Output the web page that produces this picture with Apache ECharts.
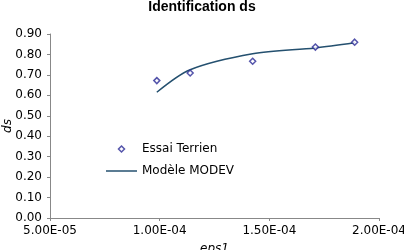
<!DOCTYPE html>
<html>
<head>
<meta charset="utf-8">
<script src="https://cdn.jsdelivr.net/npm/echarts@6/dist/echarts.min.js"></script>
<style>
  html, body { margin: 0; padding: 0; background: #fff; }
  #chart { width: 404px; height: 250px; }
</style>
</head>
<body>
<div id="chart"></div>
<script>
// essais terrain (points)
var essaiEps = [9.87e-5, 1.139e-4, 1.424e-4, 1.71e-4, 1.889e-4];
var essaiDs = [0.672, 0.709, 0.767, 0.836, 0.860];
// modele MODEV (courbe)
var modevEps = [9.87e-5, 1.139e-4, 1.424e-4, 1.71e-4, 1.889e-4];
var modevDs = [0.615, 0.725, 0.803, 0.832, 0.857];

var xTicks = ['5.00E-05', '1.00E-04', '1.50E-04', '2.00E-04'];

function sciLabel(v) {
    var s = v.toExponential(2).toUpperCase();
    // 5.00E-5 -> 5.00E-05
    return s.replace(/E([+-])(\d)$/, 'E$10$2');
}

var font = 'DejaVu Sans';
var markerStyle = { color: '#fff', borderColor: '#2a2a96', borderWidth: 1.5 };
var myChart = echarts.init(document.getElementById('chart'));
var option = {
    animation: false,
    title: {
        text: 'Identification ds',
        left: 'center',
        top: -5,
        textStyle: { fontFamily: 'Liberation Sans', fontWeight: 'bold', fontSize: 14, color: '#000' }
    },
    legend: {
        orient: 'vertical',
        left: 101,
        top: 138,
        itemWidth: 31,
        itemHeight: 6,
        itemGap: 10,
        symbolKeepAspect: true,
        textStyle: { fontFamily: font, fontSize: 12, color: '#000' },
        data: [
            { name: 'Essai Terrien', icon: 'path://M5,0 L10,5 L5,10 L0,5 Z', itemStyle: markerStyle },
            { name: 'Modèle MODEV', icon: 'path://M0,0 L31,0 L31,1.5 L0,1.5 Z' }
        ]
    },
    grid: { left: 50, right: 25, top: 34, bottom: 32, outerBoundsMode: 'none' },
    xAxis: {
        type: 'value',
        min: 5e-5,
        max: 2e-4,
        interval: 5e-5,
        name: 'eps1',
        nameLocation: 'middle',
        nameGap: 25,
        nameTextStyle: { fontFamily: font, fontStyle: 'italic', fontSize: 12, color: '#000' },
        axisLine: { lineStyle: { color: '#888', width: 1 } },
        axisTick: { length: 3, lineStyle: { color: '#888' } },
        splitLine: { show: false },
        axisLabel: {
            fontFamily: font, fontSize: 12, color: '#000', margin: 7,
            showMaxLabel: true, showMinLabel: true,
            formatter: function (v) {
                var s = sciLabel(v);
                return xTicks.indexOf(s) >= 0 ? s : '';
            }
        }
    },
    yAxis: {
        type: 'value',
        min: 0,
        max: 0.9,
        interval: 0.1,
        name: 'ds',
        nameLocation: 'middle',
        nameGap: 36,
        nameMoveOverlap: false,
        nameTextStyle: { fontFamily: font, fontStyle: 'italic', fontSize: 12, color: '#000' },
        axisLine: { show: true, lineStyle: { color: '#888', width: 1 } },
        axisTick: { show: true, length: 3, lineStyle: { color: '#888' } },
        splitLine: { show: false },
        axisLabel: {
            fontFamily: font, fontSize: 12, color: '#000', margin: 8,
            formatter: function (v) { return v.toFixed(2); }
        }
    },
    series: [{
        name: 'Essai Terrien',
        type: 'scatter',
        symbol: 'diamond',
        symbolSize: 6,
        itemStyle: markerStyle,
        data: essaiEps.map(function (x, i) { return [x, essaiDs[i]]; }),
        z: 3
    }, {
        name: 'Modèle MODEV',
        type: 'line',
        symbol: 'none',
        smooth: 0.3,
        lineStyle: { color: '#24506f', width: 1.5 },
        itemStyle: { color: '#24506f' },
        data: modevEps.map(function (x, i) { return [x, modevDs[i]]; }),
        z: 2
    }]
};
myChart.setOption(option);
</script>
</body>
</html>
